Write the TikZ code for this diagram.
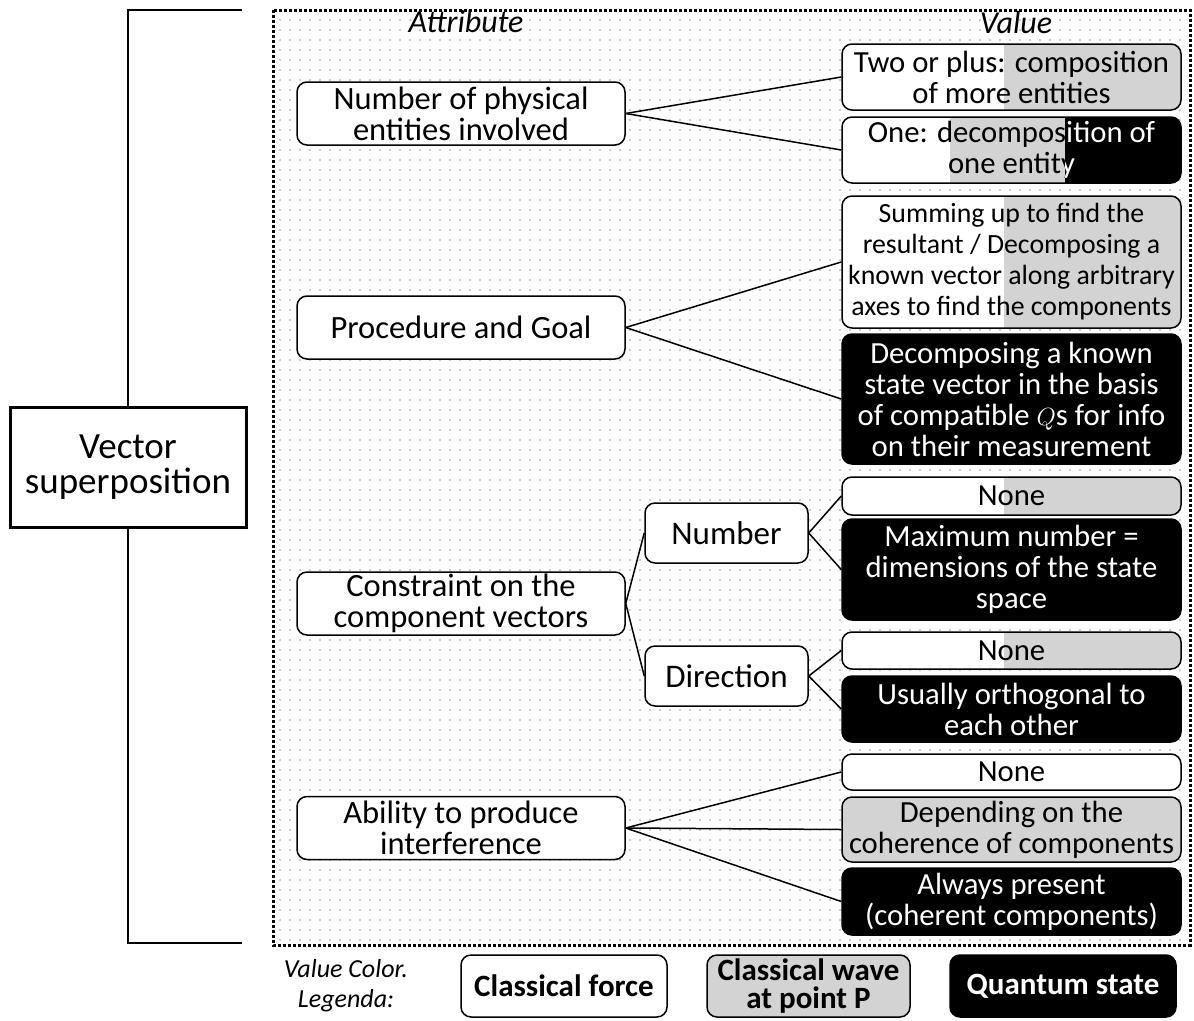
\documentclass[tikz,border=0pt]{standalone}
\usepackage{fontspec}
\usepackage{amsmath}
\setmainfont{Carlito}
\usetikzlibrary{patterns.meta}
\definecolor{wavegray}{RGB}{211,211,211}

\tikzset{
    box/.style={draw, line width=1.5pt, rounded corners=10pt, align=center, inner sep=0pt,
        font=\fontsize{30.7}{31}\selectfont},
    attr/.style={box, fill=white, minimum width=328pt, minimum height=63pt,
        font=\fontsize{32.5}{31}\selectfont},
    sub/.style={box, fill=white, minimum width=163pt, minimum height=60pt,
        font=\fontsize{33}{31}\selectfont},
    val/.style={box, fill=white, minimum width=339pt},
    valsplit/.style={val, path picture={
        \fill[wavegray, sharp corners] ([xshift=-8pt]path picture bounding box.north)
            rectangle (path picture bounding box.south east);}},
    valgray/.style={val, fill=wavegray},
    valblack/.style={val, fill=black, text=white},
    conn/.style={-, line width=1.5pt},
    leg/.style={box, minimum height=62pt, font=\fontsize{31}{28}\selectfont\bfseries},
    legtext/.style={font=\fontsize{26}{28}\selectfont\itshape, inner sep=0pt},
    head/.style={font=\fontsize{32}{32}\selectfont\itshape},
}

\begin{document}
\begin{tikzpicture}[x=1pt, y=-1pt]
        \useasboundingbox (0,0) rectangle (1194,1020);

        \draw[line width=3pt, dash pattern=on 3pt off 2pt,
            pattern={Dots[distance=10pt, radius=0.6pt]}, pattern color=black!85]
            (273,10) rectangle (1190,945);

        \node[head] (attrhead) at (466,22) {Attribute};
        \node[head] (valhead) at (1016,22) {Value};

        \node[draw, line width=3pt, fill=white, minimum width=236pt, minimum height=120pt,
            align=center, inner sep=0pt, font=\fontsize{37}{35}\selectfont]
            (title) at (128,467) {Vector\\superposition};
        \coordinate (topend) at (242,10);
        \coordinate (botend) at (242,943);
        \draw[line width=2.5pt] (title.north) |- (topend);
        \draw[line width=2.5pt] (title.south) |- (botend);

        \node[attr] (entities) at (461,113.5) {Number of physical\\entities involved};
        \node[attr] (procedure) at (461,327.5) {Procedure and Goal};
        \node[attr] (constraint) at (461,603.5) {Constraint on the\\component vectors};
        \node[attr] (interference) at (461,828) {Ability to produce\\interference};

        \node[sub] (number) at (726.5,533) {Number};
        \node[sub] (direction) at (726.5,676) {Direction};

        \node[valsplit, minimum height=66pt] (more) at (1011.5,77) {Two or plus: composition\\of more entities};
        \node[val, minimum height=66pt, path picture={
            \fill[wavegray, sharp corners] ([xshift=-61.5pt]path picture bounding box.north)
                rectangle ([xshift=53.5pt]path picture bounding box.south);
            \fill[black, sharp corners] ([xshift=53.5pt]path picture bounding box.north)
                rectangle (path picture bounding box.south east);}]
            (one) at (1011.5,150) {One: decomposition of\\one entity};
        \begin{scope}
            \clip ([xshift=53.5pt]one.north) rectangle (one.south east);
            \node[val, draw=none, fill=none, text=white, minimum height=66pt] at (one) {One: decomposition of\\one entity};
        \end{scope}

        \node[valsplit, minimum height=132pt, font=\fontsize{27.8}{31}\selectfont] (summing) at (1011.5,262) {Summing up to find the\\resultant / Decomposing a\\known vector along arbitrary\\axes to find the components};
        \node[valblack, minimum height=130pt] (decomposing) at (1011.5,399) {Decomposing a known\\state vector in the basis\\of compatible $Q$s for info\\on their measurement};

        \node[valsplit, minimum height=38pt] (numnone) at (1011.5,496) {None};
        \node[valblack, minimum height=101pt] (maximum) at (1011.5,569.5) {Maximum number =\\dimensions of the state\\space};
        \node[valsplit, minimum height=37pt] (dirnone) at (1011.5,650.5) {None};
        \node[valblack, minimum height=66pt] (orthogonal) at (1011.5,709) {Usually orthogonal to\\each other};

        \node[val, minimum height=36pt] (intnone) at (1011.5,772) {None};
        \node[valgray, minimum height=65pt] (depending) at (1011.5,829.5) {Depending on the\\coherence of components};
        \node[valblack, minimum height=67pt] (always) at (1011.5,901.5) {Always present\\(coherent components)};

        \draw[conn] (entities.east) -- (more.west);
        \draw[conn] (entities.east) -- (one.west);
        \draw[conn] (procedure.east) -- (summing.west);
        \draw[conn] (procedure.east) -- (decomposing.west);
        \draw[conn] (constraint.east) -- (number.west);
        \draw[conn] (constraint.east) -- (direction.west);
        \draw[conn] (number.east) -- (numnone.west);
        \draw[conn] (number.east) -- (maximum.west);
        \draw[conn] (direction.east) -- (dirnone.west);
        \draw[conn] (direction.east) -- (orthogonal.west);
        \draw[conn] (interference.east) -- (intnone.west);
        \draw[conn] (interference.east) -- (depending.west);
        \draw[conn] (interference.east) -- (always.west);

        \node[legtext] (legtop) at (346,969) {Value Color.};
        \node[legtext] (legbot) at (346,1001) {Legenda:};
        \node[leg, fill=white, minimum width=206pt] (force) at (564,986) {Classical force};
        \node[leg, fill=wavegray, minimum width=203pt] (wave) at (808.5,986) {Classical wave\\at point P};
        \node[leg, fill=black, text=white, minimum width=226pt] (quantum) at (1063,986) {Quantum state};
    \end{tikzpicture}
\end{document}
